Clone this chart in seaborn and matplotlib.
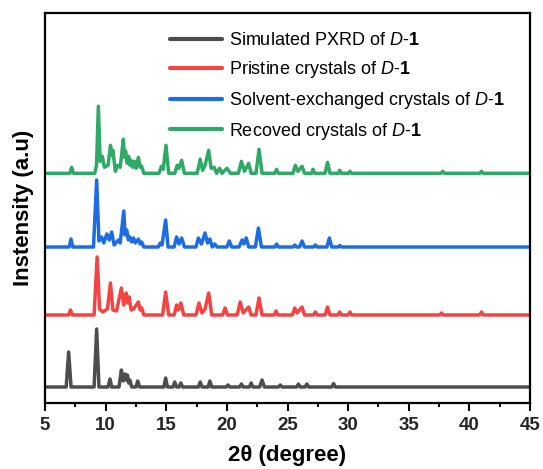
import matplotlib
matplotlib.use("Agg")
import matplotlib.pyplot as plt
import seaborn as sns
import pandas as pd
from matplotlib.ticker import MultipleLocator

# ---------------- data (2theta vertices, intensity above each baseline) -------------
tt_sim = [5, 6.75, 6.95, 7.15, 9.05, 9.26, 9.45, 10.2, 10.36, 10.5, 11.1, 11.3, 11.45, 11.6, 11.7,
          11.8, 11.9, 12.0, 12.15, 12.5, 12.65, 12.8, 14.8, 14.95, 15.1, 15.55, 15.7, 15.85, 16.05,
          16.2, 16.35, 17.65, 17.8, 17.95, 18.45, 18.6, 18.75, 19.95, 20.1, 20.25, 21.05, 21.2, 21.35,
          21.85, 22.0, 22.15, 22.7, 22.9, 23.1, 24.25, 24.4, 24.55, 25.75, 25.9, 26.05, 26.45, 26.6,
          26.75, 28.65, 28.8, 28.95, 45]
I_sim = [0, 0, 35, 0, 0, 58, 0, 0, 8, 0, 0, 17, 6, 13, 7,
         12, 4, 7, 0, 0, 6, 0, 0, 9, 0, 0, 5, 0, 0,
         4, 0, 0, 5, 0, 0, 6, 0, 0, 2, 0, 0, 3, 0,
         0, 4, 0, 0, 7, 0, 0, 2, 0, 0, 3, 0, 0, 3,
         0, 0, 3.5, 0, 0]

tt_pri = [5, 6.95, 7.1, 7.25, 9.05, 9.3, 9.5, 9.75, 10.15, 10.4, 10.6, 10.9, 11.3, 11.5, 11.7,
          11.82, 11.95, 12.1, 12.3, 12.7, 12.85, 12.97, 13.15, 14.7, 14.95, 15.2, 15.65, 15.85, 16.0,
          16.2, 16.45, 17.45, 17.7, 17.95, 18.2, 18.5, 18.75, 19.65, 19.85, 20.05, 20.85, 21.1, 21.35,
          21.8, 22.0, 22.4, 22.65, 22.9, 23.9, 24.05, 24.2, 25.4, 25.6, 25.8, 26.2, 26.4, 27.15,
          27.3, 27.45, 28.1, 28.3, 28.5, 29.15, 29.3, 29.45, 30.0, 30.15, 30.3, 37.55, 37.7, 37.85,
          40.85, 41.0, 41.15, 45]
I_pri = [0, 0, 5, 0, 0, 58, 6, 3, 6, 32, 5, 4, 27, 10, 22,
         12, 18, 5, 6, 13, 5, 7, 0, 0, 23, 0, 0, 10, 5,
         12, 0, 0, 12, 2, 6, 22, 0, 0, 7, 0, 0, 13, 2,
         8, 0, 0, 17, 0, 0, 4, 0, 0, 7, 2, 8, 0, 0,
         3, 0, 0, 8, 0, 0, 3, 0, 0, 3, 0, 0, 2, 0,
         0, 3, 0, 0]

tt_sol = [5, 7.0, 7.14, 7.3, 9.0, 9.26, 9.45, 9.67, 9.85, 10.1, 10.3, 10.5, 10.7, 11.05, 11.2,
          11.5, 11.6, 11.74, 11.87, 12.0, 12.15, 12.3, 12.45, 12.7, 12.85, 12.97, 13.15, 14.35, 14.5,
          14.65, 14.95, 15.15, 15.65, 15.85, 16.05, 16.27, 16.5, 17.45, 17.65, 17.9, 18.2, 18.4, 18.6,
          18.8, 19.0, 19.2, 20.0, 20.2, 20.4, 21.0, 21.25, 21.4, 21.6, 21.8, 22.35, 22.6, 22.85,
          23.95, 24.1, 24.25, 25.45, 25.6, 25.75, 26.0, 26.2, 26.4, 27.15, 27.3, 27.45, 28.25, 28.45,
          28.65, 29.2, 29.3, 29.45, 45]
I_sol = [0, 0, 8, 0, 0, 67, 6, 10, 4, 13, 7, 15, 2, 7, 4,
         36, 12, 17, 7, 10, 5, 9, 4, 8, 3, 5, 0, 0, 4,
         2, 27, 0, 0, 10, 3, 9, 0, 0, 9, 3, 14, 4, 8,
         0, 3, 0, 0, 6, 0, 0, 7, 3, 9, 0, 0, 19, 0,
         0, 3, 0, 0, 2, 0, 0, 6, 0, 0, 2, 0, 0, 9,
         0, 0, 1.5, 0, 0]

tt_rec = [5, 7.05, 7.2, 7.35, 9.1, 9.25, 9.4, 9.55, 9.73, 9.9, 10.2, 10.4, 10.5, 10.6, 10.8,
          11.0, 11.2, 11.46, 11.56, 11.65, 11.78, 11.9, 12.0, 12.1, 12.25, 12.37, 12.52, 12.7, 12.85,
          12.97, 13.15, 14.4, 14.6, 14.75, 14.98, 15.2, 15.7, 15.9, 16.05, 16.27, 16.5, 17.55, 17.8,
          18.0, 18.2, 18.5, 18.7, 18.95, 19.15, 19.4, 19.6, 20.0, 20.3, 20.95, 21.2, 21.45, 21.8,
          22.0, 22.4, 22.65, 22.9, 23.95, 24.1, 24.25, 25.45, 25.65, 25.85, 26.2, 26.4, 27.0, 27.1,
          27.25, 28.1, 28.3, 28.5, 29.2, 29.3, 29.45, 30.05, 30.15, 30.3, 37.65, 37.8, 37.95, 40.85,
          41.0, 41.15, 45]
I_rec = [0, 0, 6, 0, 0, 8, 67, 12, 17, 6, 8, 28, 18, 23, 2,
         8, 6, 34, 16, 22, 10, 17, 8, 13, 6, 12, 5, 16, 6,
         7, 0, 0, 7, 4, 28, 0, 0, 8, 5, 13, 0, 0, 14,
         3, 8, 23, 5, 6, 0, 5, 0, 5, 0, 0, 12, 2, 10,
         0, 0, 24, 0, 0, 4, 0, 0, 8, 2, 7, 0, 0, 4,
         0, 0, 11, 0, 0, 3, 0, 0, 2, 0, 0, 2, 0, 0,
         2, 0, 0]

labels = [r"Simulated PXRD of $\mathit{D}$-$\mathbf{1}$",
          r"Pristine crystals of $\mathit{D}$-$\mathbf{1}$",
          r"Solvent-exchanged crystals of $\mathit{D}$-$\mathbf{1}$",
          r"Recoved crystals of $\mathit{D}$-$\mathbf{1}$"]
x_ticks = [5, 10, 15, 20, 25, 30, 35, 40, 45]

# ---------------- style ----------------
sns.set_theme(style="white")
plt.rcParams["font.family"] = ["Liberation Sans", "DejaVu Sans"]
plt.rcParams["mathtext.fontset"] = "custom"
plt.rcParams["mathtext.rm"] = "Liberation Sans"
plt.rcParams["mathtext.it"] = "Liberation Sans:italic"
plt.rcParams["mathtext.bf"] = "Liberation Sans:bold"

colors = ["#4d4d4d", "#f44343", "#1c6ce3", "#2faa66"]
offsets = [16, 88, 156, 229.7]
series = [(tt_sim, I_sim), (tt_pri, I_pri), (tt_sol, I_sol), (tt_rec, I_rec)]

fig = plt.figure(figsize=(5.43, 4.69), dpi=100)
ax = fig.add_axes([45 / 543, 66 / 469, 485 / 543, 390 / 469])

for (tt, I), off, col, lab in zip(series, offsets, colors, labels):
    df = pd.DataFrame({"x": tt, "y": [v + off for v in I]})
    sns.lineplot(data=df, x="x", y="y", sort=False, estimator=None, color=col,
                 linewidth=2.5, label=lab, ax=ax)

ax.set_xlim(5, 45)
ax.set_ylim(0, 390)
ax.set_xticks(x_ticks)
ax.set_xticklabels([str(t) for t in x_ticks])
ax.xaxis.set_minor_locator(MultipleLocator(2.5))
ax.set_yticks([])
ax.tick_params(axis="x", which="major", direction="out", length=6, width=1.5,
               bottom=True, labelsize=13.5, pad=4, color="black")
ax.tick_params(axis="x", which="minor", direction="out", length=3, width=1.5,
               bottom=True, color="black")
for lbl in ax.get_xticklabels():
    lbl.set_fontweight("bold")
for sp in ax.spines.values():
    sp.set_visible(True)
    sp.set_linewidth(1.6)
    sp.set_color("black")

ax.set_xlabel("2θ (degree)", fontsize=16, fontweight="bold", labelpad=8, color="black")
ax.set_ylabel("Instensity (a.u)", fontsize=16, fontweight="bold", labelpad=8, color="black")

leg = ax.legend(loc="upper left", bbox_to_anchor=(170 / 543, 1 - 32 / 469),
                bbox_transform=fig.transFigure, frameon=False, fontsize=13,
                handlelength=2.9, handletextpad=0.35, labelspacing=0.55,
                borderpad=0, borderaxespad=0)
for line in leg.get_lines():
    line.set_linewidth(3)
for t in leg.get_texts():
    t.set_color("black")

fig.savefig("out.png", dpi=100)
